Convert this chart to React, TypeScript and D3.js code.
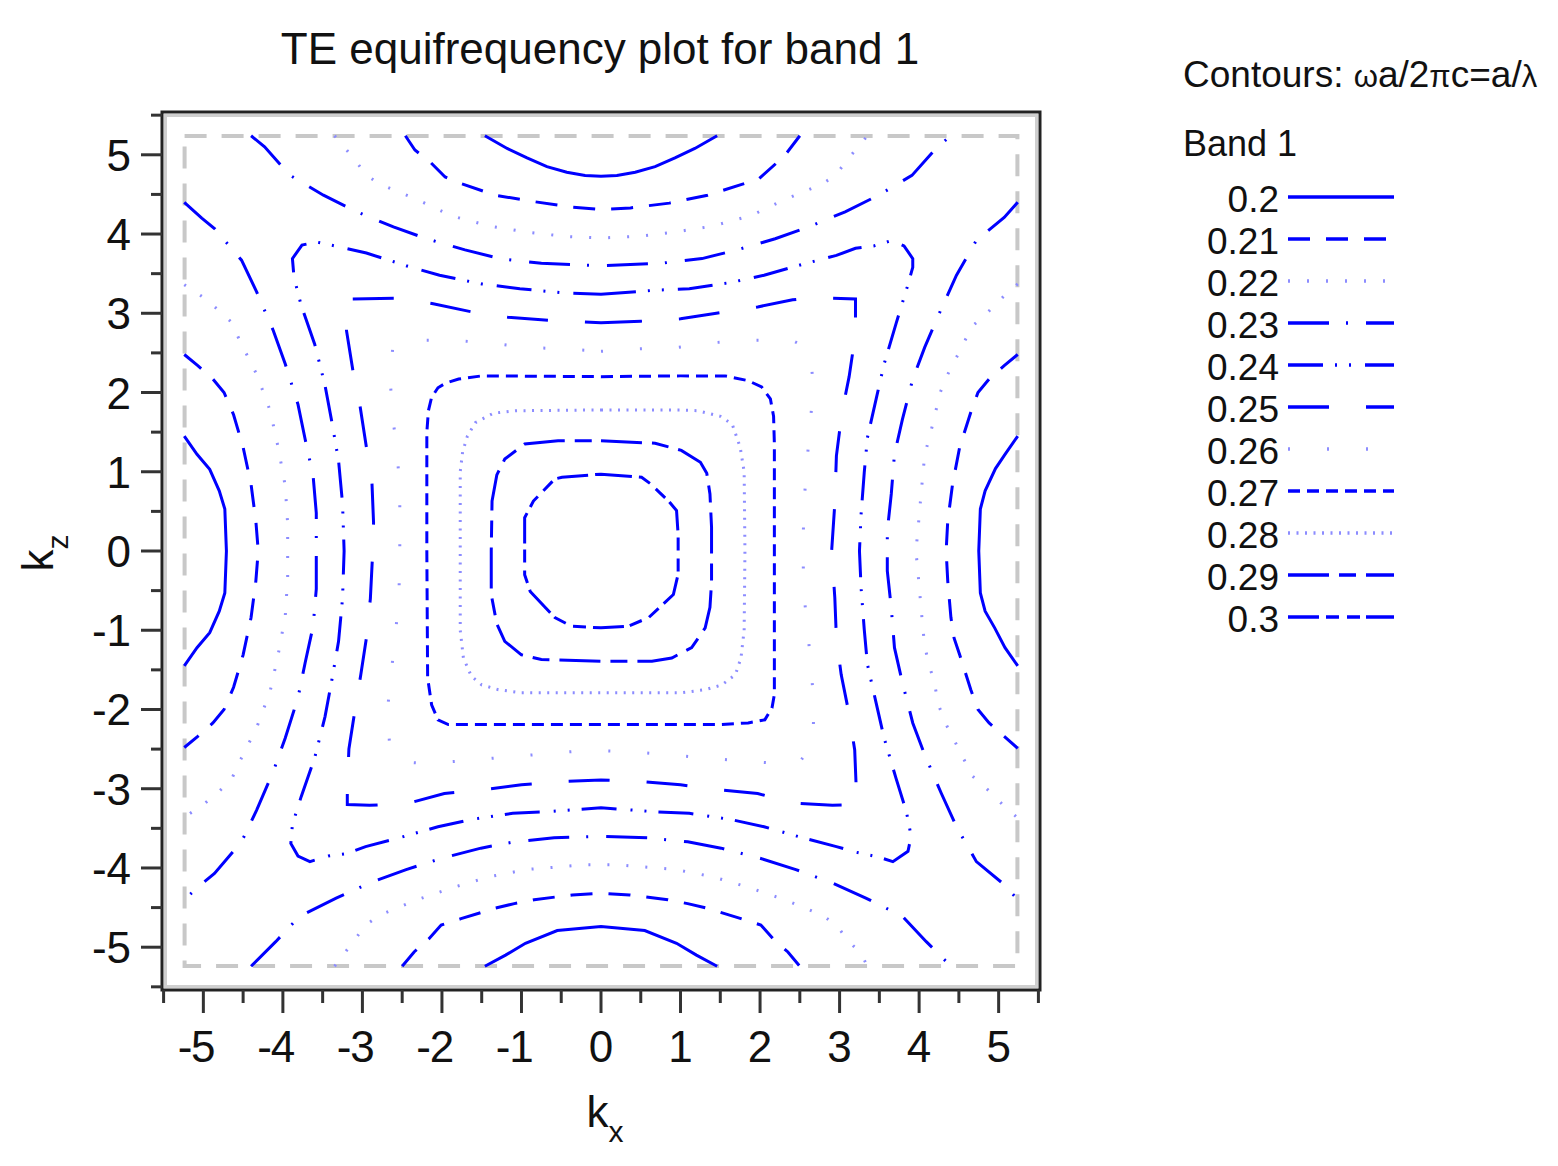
import React from 'react';
import * as d3 from 'd3';

type Pt = [number, number];

// Contour levels (omega a / 2 pi c)
const LEVEL_LABELS = ['0.2', '0.21', '0.22', '0.23', '0.24', '0.25', '0.26', '0.27', '0.28', '0.29', '0.3'];

const AXIS_TICKS = [-5, -4, -3, -2, -1, 0, 1, 2, 3, 4, 5];
const MINOR_TICKS = [-5.5, -4.5, -3.5, -2.5, -1.5, -0.5, 0.5, 1.5, 2.5, 3.5, 4.5, 5.5];

// Brillouin zone edge (dashed grey box)
const ZONE_EDGE = 5.236;

// ---- contour polylines, [kx, kz] ----
const C020: Pt[][] = [
  [[-1.46, 5.24], [-1.18, 5.08], [-0.93, 4.96], [-0.68, 4.85], [-0.43, 4.78], [-0.2, 4.74], [0, 4.73], [0.2, 4.74], [0.43, 4.78], [0.68, 4.85], [0.93, 4.96], [1.18, 5.08], [1.46, 5.24]],
  [[-1.46, -5.24], [-1.2, -5.1], [-0.95, -4.95], [-0.55, -4.79], [0, -4.74], [0.55, -4.79], [0.95, -4.95], [1.2, -5.1], [1.46, -5.24]],
  [[-5.24, 1.45], [-5.08, 1.22], [-4.92, 1.03], [-4.8, 0.76], [-4.73, 0.53], [-4.71, 0], [-4.73, -0.53], [-4.8, -0.76], [-4.92, -1.03], [-5.08, -1.22], [-5.24, -1.45]],
  [[5.24, 1.45], [5.08, 1.22], [4.96, 1.04], [4.83, 0.76], [4.77, 0.53], [4.75, 0], [4.77, -0.53], [4.83, -0.76], [4.95, -0.97], [5.08, -1.22], [5.24, -1.45]],
];

const C021: Pt[][] = [
  [[-2.46, 5.24], [-2.34, 5.06], [-2.15, 4.91], [-1.96, 4.72], [-1.77, 4.64], [-1.33, 4.49], [-0.85, 4.41], [-0.37, 4.34], [0, 4.31], [0.37, 4.33], [0.86, 4.39], [1.34, 4.49], [1.78, 4.63], [1.99, 4.7], [2.2, 4.89], [2.34, 5.03], [2.5, 5.24]],
  [[-2.5, -5.24], [-2.35, -5.06], [-2.16, -4.89], [-2.01, -4.72], [-1.76, -4.64], [-1.34, -4.51], [-1.09, -4.45], [-0.84, -4.4], [-0.36, -4.34], [0, -4.32], [0.36, -4.34], [0.84, -4.4], [1.09, -4.45], [1.34, -4.51], [1.76, -4.64], [2.01, -4.72], [2.16, -4.89], [2.35, -5.06], [2.5, -5.24]],
  [[-5.24, 2.48], [-5.07, 2.34], [-4.88, 2.17], [-4.74, 2.0], [-4.62, 1.72], [-4.5, 1.31], [-4.4, 0.84], [-4.34, 0.38], [-4.31, 0], [-4.34, -0.38], [-4.4, -0.84], [-4.5, -1.31], [-4.62, -1.72], [-4.74, -2.0], [-4.88, -2.17], [-5.07, -2.34], [-5.24, -2.48]],
  [[5.24, 2.48], [5.07, 2.34], [4.88, 2.17], [4.74, 2.0], [4.65, 1.75], [4.51, 1.31], [4.42, 0.84], [4.36, 0.38], [4.34, 0], [4.36, -0.38], [4.4, -0.84], [4.44, -1.1], [4.51, -1.31], [4.65, -1.75], [4.74, -2.0], [4.88, -2.17], [5.07, -2.34], [5.24, -2.49]],
];

const C022: Pt[][] = [
  [[-3.35, 5.24], [-3.09, 4.93], [-2.95, 4.74], [-2.76, 4.62], [-2.3, 4.43], [-1.88, 4.23], [-1.4, 4.1], [-0.9, 4.02], [-0.45, 3.97], [0, 3.95], [0.45, 3.97], [0.9, 4.02], [1.4, 4.1], [1.88, 4.23], [2.3, 4.43], [2.76, 4.62], [2.95, 4.74], [3.09, 4.93], [3.35, 5.24]],
  [[-3.35, -5.24], [-3.1, -4.91], [-2.96, -4.72], [-2.77, -4.59], [-2.31, -4.4], [-1.84, -4.24], [-1.4, -4.11], [-0.94, -4.02], [-0.21, -3.96], [0, -3.96], [0.21, -3.96], [0.94, -4.02], [1.4, -4.11], [1.84, -4.24], [2.31, -4.4], [2.77, -4.59], [2.96, -4.72], [3.1, -4.91], [3.27, -5.08], [3.35, -5.24]],
  [[-5.24, 3.36], [-5.0, 3.2], [-4.81, 3.04], [-4.65, 2.89], [-4.54, 2.65], [-4.33, 2.23], [-4.16, 1.77], [-4.06, 1.31], [-3.97, 0.82], [-3.94, 0.34], [-3.94, 0], [-3.94, -0.34], [-3.97, -0.82], [-4.06, -1.31], [-4.16, -1.77], [-4.33, -2.23], [-4.54, -2.65], [-4.65, -2.89], [-4.81, -3.04], [-5.0, -3.2], [-5.24, -3.36]],
  [[5.24, 3.37], [5.05, 3.2], [4.85, 3.0], [4.66, 2.83], [4.55, 2.6], [4.34, 2.19], [4.25, 1.96], [4.2, 1.71], [4.07, 1.21], [4.03, 0.78], [3.99, 0.32], [3.96, 0], [3.99, -0.32], [4.03, -0.78], [4.07, -1.21], [4.2, -1.71], [4.25, -1.96], [4.34, -2.19], [4.55, -2.6], [4.66, -2.83], [4.85, -3.0], [5.05, -3.2], [5.24, -3.37]],
];

const C023: Pt[][] = [
  [[-4.4, 5.24], [-4.23, 5.1], [-3.91, 4.74], [-3.49, 4.49], [-3.07, 4.28], [-2.61, 4.09], [-2.19, 3.94], [-1.71, 3.8], [-1.27, 3.69], [-0.75, 3.63], [0, 3.6], [0.75, 3.63], [1.27, 3.69], [1.71, 3.8], [2.19, 3.94], [2.61, 4.09], [3.07, 4.28], [3.49, 4.49], [3.91, 4.74], [4.23, 5.1], [4.4, 5.24]],
  [[-4.4, -5.24], [-4.09, -4.93], [-3.79, -4.61], [-3.33, -4.38], [-2.91, -4.19], [-2.45, -4.02], [-2.01, -3.88], [-1.51, -3.75], [-1.09, -3.67], [-0.59, -3.62], [0, -3.6], [0.59, -3.62], [1.09, -3.67], [1.51, -3.75], [2.01, -3.88], [2.45, -4.02], [2.91, -4.19], [3.33, -4.38], [3.79, -4.61], [4.09, -4.93], [4.4, -5.24]],
  [[-5.24, 4.4], [-5.02, 4.2], [-4.86, 4.07], [-4.52, 3.67], [-4.33, 3.27], [-4.12, 2.78], [-3.97, 2.36], [-3.81, 1.85], [-3.72, 1.41], [-3.62, 0.95], [-3.58, 0.48], [-3.58, 0], [-3.58, -0.48], [-3.62, -0.95], [-3.72, -1.41], [-3.81, -1.85], [-3.97, -2.36], [-4.12, -2.78], [-4.33, -3.27], [-4.52, -3.67], [-4.86, -4.07], [-5.02, -4.2], [-5.24, -4.4]],
  [[5.24, 4.4], [5.07, 4.21], [4.72, 3.92], [4.47, 3.48], [4.28, 3.06], [4.07, 2.57], [3.92, 2.17], [3.79, 1.66], [3.69, 1.22], [3.65, 0.72], [3.6, 0.25], [3.6, 0], [3.6, -0.25], [3.65, -0.72], [3.69, -1.22], [3.79, -1.66], [3.92, -2.17], [4.07, -2.57], [4.28, -3.06], [4.47, -3.48], [4.72, -3.92], [5.07, -4.21], [5.24, -4.4]],
];

const C024: Pt[] = [
  [0, 3.24], [0.67, 3.29], [1.11, 3.31], [1.64, 3.39], [2.05, 3.48], [2.54, 3.62], [2.96, 3.73], [3.2, 3.82], [3.43, 3.85], [3.66, 3.92], [3.81, 3.85], [3.92, 3.69], [3.92, 3.58], [3.85, 3.33], [3.71, 2.87], [3.56, 2.36], [3.46, 1.92], [3.35, 1.43], [3.31, 0.99], [3.27, 0.46], [3.25, 0],
  [3.27, -0.46], [3.31, -0.99], [3.35, -1.43], [3.46, -1.92], [3.56, -2.36], [3.71, -2.87], [3.84, -3.29], [3.9, -3.6], [3.86, -3.79], [3.67, -3.92], [3.48, -3.86], [3.2, -3.8], [2.96, -3.73], [2.54, -3.62], [2.05, -3.48], [1.64, -3.39], [1.11, -3.31], [0.67, -3.29], [0, -3.24],
  [-0.67, -3.29], [-1.11, -3.31], [-1.64, -3.39], [-2.05, -3.48], [-2.54, -3.62], [-2.96, -3.73], [-3.2, -3.82], [-3.43, -3.85], [-3.66, -3.92], [-3.81, -3.85], [-3.9, -3.69], [-3.88, -3.45], [-3.77, -3.1], [-3.6, -2.61], [-3.47, -2.09], [-3.39, -1.66], [-3.3, -1.14], [-3.25, -0.6], [-3.23, 0],
  [-3.25, 0.6], [-3.3, 1.14], [-3.39, 1.66], [-3.47, 2.09], [-3.6, 2.61], [-3.77, 3.1], [-3.86, 3.45], [-3.88, 3.69], [-3.76, 3.86], [-3.58, 3.9], [-3.3, 3.84], [-2.95, 3.76], [-2.45, 3.6], [-2.03, 3.48], [-1.5, 3.37], [-1.02, 3.31], [-0.5, 3.26],
];

const C025: Pt[] = [
  [0, 2.88], [0.5, 2.9], [1.0, 2.93], [1.45, 3.0], [1.97, 3.08], [2.41, 3.17], [2.68, 3.2], [3.2, 3.18], [3.2, 2.74], [3.12, 2.2], [3.03, 1.75], [2.96, 1.2], [2.94, 0.6], [2.9, 0],
  [2.94, -0.59], [2.96, -1.1], [3.02, -1.56], [3.12, -2.06], [3.19, -2.51], [3.21, -3.01], [3.21, -3.2], [2.91, -3.21], [2.41, -3.18], [1.97, -3.06], [1.45, -3.01], [1.0, -2.95], [0.5, -2.91], [0, -2.89],
  [-0.5, -2.91], [-1.0, -2.95], [-1.45, -3.01], [-1.97, -3.06], [-2.41, -3.18], [-2.91, -3.21], [-3.19, -3.2], [-3.19, -3.0], [-3.17, -2.5], [-3.1, -2.05], [-3.02, -1.56], [-2.95, -1.1], [-2.9, -0.6], [-2.87, 0],
  [-2.86, 0.36], [-2.88, 0.86], [-2.95, 1.31], [-3.03, 1.83], [-3.12, 2.28], [-3.2, 2.78], [-3.2, 3.18], [-2.55, 3.19], [-2.11, 3.12], [-1.59, 3.01], [-1.17, 2.95], [-0.64, 2.91],
];

const C026: Pt[] = [
  [0, 2.52], [0.47, 2.55], [0.96, 2.57], [1.42, 2.63], [1.92, 2.66], [2.4, 2.66], [2.62, 2.55], [2.66, 2.2], [2.66, 1.96], [2.62, 1.47], [2.58, 1.01], [2.55, 0.53], [2.54, 0],
  [2.55, -0.53], [2.6, -1.01], [2.64, -1.47], [2.68, -1.96], [2.66, -2.44], [2.5, -2.66], [2.24, -2.68], [1.76, -2.65], [1.3, -2.61], [0.82, -2.57], [0.34, -2.53], [0, -2.52],
  [-0.34, -2.53], [-0.82, -2.57], [-1.3, -2.61], [-1.76, -2.65], [-2.24, -2.68], [-2.5, -2.66], [-2.66, -2.44], [-2.68, -1.96], [-2.63, -1.47], [-2.58, -1.01], [-2.54, -0.53], [-2.53, 0],
  [-2.53, 0.32], [-2.53, 0.8], [-2.57, 1.31], [-2.63, 1.77], [-2.65, 2.2], [-2.62, 2.55], [-2.4, 2.66], [-1.92, 2.66], [-1.42, 2.63], [-0.96, 2.57], [-0.47, 2.55],
];

const C027: Pt[] = [
  [0, 2.2], [1.0, 2.21], [1.56, 2.21], [1.85, 2.15], [2.02, 2.07], [2.13, 1.92], [2.17, 1.7], [2.18, 1.35], [2.18, 0],
  [2.18, -1.3], [2.18, -1.81], [2.15, -1.98], [2.06, -2.13], [1.85, -2.17], [1.5, -2.19], [0, -2.19],
  [-1.5, -2.19], [-1.92, -2.19], [-2.05, -2.13], [-2.13, -1.94], [-2.18, -1.6], [-2.19, 0],
  [-2.19, 1.5], [-2.17, 1.77], [-2.13, 1.94], [-2.05, 2.06], [-1.95, 2.12], [-1.79, 2.17], [-1.5, 2.21],
];

const C028: Pt[] = [
  [0, 1.78], [1.0, 1.78], [1.22, 1.77], [1.5, 1.7], [1.65, 1.6], [1.75, 1.31], [1.8, 1.0], [1.81, 0],
  [1.8, -1.0], [1.76, -1.35], [1.69, -1.56], [1.52, -1.69], [1.31, -1.75], [1.0, -1.79], [0, -1.79],
  [-1.0, -1.79], [-1.29, -1.75], [-1.5, -1.69], [-1.63, -1.58], [-1.73, -1.35], [-1.77, -1.0], [-1.77, 0],
  [-1.77, 1.0], [-1.74, 1.25], [-1.68, 1.45], [-1.58, 1.62], [-1.35, 1.74], [-1.08, 1.77],
];

const C029: Pt[] = [
  [0, 1.39], [0.68, 1.36], [1.01, 1.27], [1.25, 1.12], [1.33, 0.98], [1.37, 0.72], [1.39, 0.3], [1.39, 0],
  [1.39, -0.4], [1.37, -0.71], [1.31, -0.97], [1.14, -1.22], [0.89, -1.35], [0.64, -1.39], [0, -1.39],
  [-0.75, -1.37], [-1.0, -1.31], [-1.21, -1.14], [-1.31, -0.92], [-1.38, -0.55], [-1.38, 0],
  [-1.37, 0.63], [-1.31, 0.96], [-1.21, 1.16], [-0.96, 1.35], [-0.54, 1.39],
];

const C030: Pt[] = [
  [0, 0.97], [0.51, 0.93], [0.62, 0.85], [0.85, 0.63], [0.95, 0.51], [0.97, 0.2], [0.97, -0.29], [0.91, -0.55], [0.6, -0.84], [0.34, -0.95], [0, -0.97],
  [-0.37, -0.95], [-0.58, -0.84], [-0.89, -0.51], [-0.96, -0.3], [-0.96, 0.42], [-0.85, 0.63], [-0.58, 0.91], [-0.49, 0.93],
];

// open curves (edge to edge) and closed loops per level
const OPEN_CURVES: Record<string, Pt[][]> = { '0.2': C020, '0.21': C021, '0.22': C022, '0.23': C023 };
const CLOSED_CURVES: Record<string, Pt[]> = {
  '0.24': C024, '0.25': C025, '0.26': C026, '0.27': C027, '0.28': C028, '0.29': C029, '0.3': C030,
};

// line styles per level
const BLUE = '#0000ff';
const LIGHT = '#8c8cff';
const STYLES: Record<string, { dash: string; color: string }> = {
  '0.2': { dash: 'none', color: BLUE },
  '0.21': { dash: '22 16', color: BLUE },
  '0.22': { dash: '2 17', color: LIGHT },
  '0.23': { dash: '41 17 2 18', color: BLUE },
  '0.24': { dash: '35 12 2 12 2 14', color: BLUE },
  '0.25': { dash: '41 37', color: BLUE },
  '0.26': { dash: '2 37', color: LIGHT },
  '0.27': { dash: '12 7', color: BLUE },
  '0.28': { dash: '2 6.5', color: LIGHT },
  '0.29': { dash: '41 10 17 10', color: BLUE },
  '0.3': { dash: '31 7 13 8 13 6', color: BLUE },
};

const FONT = '"Liberation Sans", Arial, sans-serif';

export default function App() {
  const width = 1558;
  const height = 1166;

  const x = d3.scaleLinear().domain([-5.52, 5.52]).range([162, 1040]);
  const y = d3.scaleLinear().domain([-5.54, 5.54]).range([990, 112]);

  const openLine = d3
    .line<Pt>()
    .x(d => x(d[0]))
    .y(d => y(d[1]));
  const closedLine = d3
    .line<Pt>()
    .x(d => x(d[0]))
    .y(d => y(d[1]))
    .curve(d3.curveLinearClosed);

  const [x0, x1] = x.range();
  const [yb, yt] = y.range();

  // legend layout
  const legendX0 = 1288;
  const legendX1 = 1394;
  const legendTop = 197;
  const legendStep = 42;

  return (
    <svg
      width={width}
      height={height}
      style={{ position: 'absolute', left: 0, top: 0, background: '#fff' }}
      fontFamily={FONT}
    >
      {/* title */}
      <text x={600} y={64} textAnchor="middle" fontSize={44} fill="#111">
        TE equifrequency plot for band 1
      </text>

      {/* inner shadow + frame */}
      <rect x={x0 + 3.5} y={yt + 3.5} width={x1 - x0 - 7} height={yb - yt - 7} fill="none" stroke="#cfcfcf" strokeWidth={3} />
      <rect x={x0} y={yt} width={x1 - x0} height={yb - yt} fill="none" stroke="#222" strokeWidth={3} />

      {/* Brillouin zone box */}
      <rect
        x={x(-ZONE_EDGE)}
        y={y(ZONE_EDGE)}
        width={x(ZONE_EDGE) - x(-ZONE_EDGE)}
        height={y(-ZONE_EDGE) - y(ZONE_EDGE)}
        fill="none"
        stroke="#c8c8c8"
        strokeWidth={4}
        strokeDasharray="22 15"
      />

      {/* contours */}
      <g fill="none" strokeWidth={3}>
        {LEVEL_LABELS.map(level => {
          const st = STYLES[level];
          const opens = OPEN_CURVES[level] || [];
          const loop = CLOSED_CURVES[level];
          return (
            <g key={level} stroke={st.color} strokeDasharray={st.dash === 'none' ? undefined : st.dash}>
              {opens.map((c, i) => (
                <path key={i} d={openLine(c) || ''} />
              ))}
              {loop && <path d={closedLine(loop) || ''} />}
            </g>
          );
        })}
      </g>

      {/* axis ticks */}
      <g stroke="#333" strokeWidth={3}>
        {AXIS_TICKS.map(t => (
          <line key={'xm' + t} x1={x(t)} x2={x(t)} y1={yb} y2={yb + 23} />
        ))}
        {MINOR_TICKS.map(t => (
          <line key={'xn' + t} x1={x(t)} x2={x(t)} y1={yb} y2={yb + 13} />
        ))}
        {AXIS_TICKS.map(t => (
          <line key={'ym' + t} x1={x0 - 21} x2={x0} y1={y(t)} y2={y(t)} />
        ))}
        {MINOR_TICKS.map(t => (
          <line key={'yn' + t} x1={x0 - 11} x2={x0} y1={y(t)} y2={y(t)} />
        ))}
      </g>

      {/* tick labels: on x the digit is centred on the tick, minus hangs to the left */}
      <g fontSize={44} fill="#111">
        {AXIS_TICKS.map(t => (
          <g key={'xl' + t}>
            <text x={x(t)} y={1062} textAnchor="middle">
              {Math.abs(t)}
            </text>
            {t < 0 && (
              <text x={x(t) - 11} y={1062} textAnchor="end">
                -
              </text>
            )}
          </g>
        ))}
        {AXIS_TICKS.map(t => (
          <text key={'yl' + t} x={131} y={y(t) + 16} textAnchor="end">
            {t}
          </text>
        ))}
      </g>

      {/* axis labels */}
      <text x={605} y={1127} textAnchor="middle" fontSize={44} fill="#111">
        k<tspan fontSize={30} dy={15}>x</tspan>
      </text>
      <text transform={`translate(53, ${y(0) + 2}) rotate(-90)`} textAnchor="middle" fontSize={44} fill="#111">
        k<tspan fontSize={30} dy={15}>z</tspan>
      </text>

      {/* legend */}
      <text x={1183} y={87} fontSize={37} fill="#111">
        Contours: <tspan fontSize={31}>ω</tspan>a/2<tspan fontSize={31}>π</tspan>c=a/<tspan fontSize={31}>λ</tspan>
      </text>
      <text x={1183} y={156} fontSize={36} fill="#111">
        Band 1
      </text>
      {LEVEL_LABELS.map((level, i) => {
        const st = STYLES[level];
        const ly = legendTop + i * legendStep;
        return (
          <g key={'lg' + level}>
            <text x={1279} y={ly + 15} textAnchor="end" fontSize={37} fill="#111">
              {level}
            </text>
            <line
              x1={legendX0}
              x2={legendX1}
              y1={ly}
              y2={ly}
              stroke={st.color}
              strokeWidth={3.5}
              strokeDasharray={st.dash === 'none' ? undefined : st.dash}
            />
          </g>
        );
      })}
    </svg>
  );
}
